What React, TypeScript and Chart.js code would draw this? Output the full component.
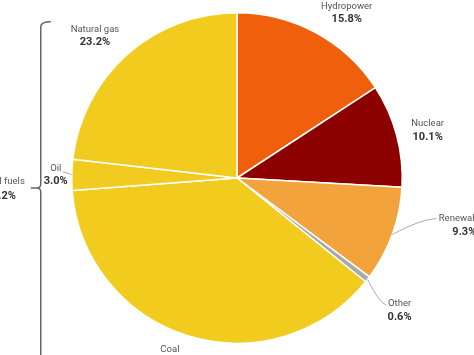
import React, { useEffect, useRef } from "react";
import { Chart, registerables } from "chart.js";

Chart.register(...registerables);

const categories = ["Hydropower", "Nuclear", "Renewables", "Other", "Coal", "Oil", "Natural gas"];
const shares = [15.8, 10.1, 9.3, 0.6, 38.0, 3.0, 23.2];
const colors = ["#ef5f0c", "#8c0000", "#f2a33c", "#a9a9a9", "#f1cc1f", "#f1cc1f", "#f1cc1f"];
const groupName = "Fossil fuels";
const groupMembers = ["Coal", "Oil", "Natural gas"];

// label placement relative to the outer mid-point of each slice (styling only)
const placement: Record<string, { dx: number; dy: number; lead?: [number, number] }> = {
  Hydropower: { dx: 31, dy: -20 },
  Nuclear: { dx: 31, dy: -5 },
  Renewables: { dx: 72, dy: -9, lead: [44, -16] },
  Other: { dx: 32, dy: 31, lead: [19, 26] },
  Coal: { dx: -18, dy: 20 },
  Oil: { dx: -16, dy: 0, lead: [-9, -3] },
  "Natural gas": { dx: -32, dy: -19 },
};

const FONT = "Roboto, 'Noto Sans', sans-serif";

const labelPlugin = {
  id: "sliceLabels",
  afterDatasetsDraw(chart: any) {
    const ctx = chart.ctx;
    const meta = chart.getDatasetMeta(0);
    const data = chart.data.datasets[0].data as number[];
    const total = data.reduce((a, b) => a + b, 0);
    let cx = 0, cy = 0, R = 0;
    ctx.save();
    meta.data.forEach((arc: any, i: number) => {
      const p = arc.getProps(["x", "y", "startAngle", "endAngle", "outerRadius"], true);
      cx = p.x; cy = p.y; R = p.outerRadius;
      const mid = (p.startAngle + p.endAngle) / 2;
      const px = p.x + Math.cos(mid) * p.outerRadius;
      const py = p.y + Math.sin(mid) * p.outerRadius;
      const name = chart.data.labels[i];
      const pl = placement[name];
      if (!pl) return;
      if (pl.lead) {
        ctx.strokeStyle = "#aaaaaa";
        ctx.lineWidth = 1;
        ctx.beginPath();
        ctx.moveTo(px, py);
        ctx.quadraticCurveTo(px + pl.lead[0] * 0.6, py + pl.lead[1] * 0.9, px + pl.lead[0], py + pl.lead[1]);
        ctx.stroke();
      }
      const lx = px + pl.dx;
      const ly = py + pl.dy;
      ctx.textAlign = "center";
      ctx.textBaseline = "middle";
      ctx.fillStyle = "#555555";
      ctx.font = `9.5px ${FONT}`;
      ctx.fillText(name, lx, ly - 6.5);
      ctx.fillStyle = "#333333";
      ctx.font = `bold 11px ${FONT}`;
      ctx.fillText(((data[i] / total) * 100).toFixed(1) + "%", lx, ly + 6.5);
    });

    // group bracket for fossil fuels
    const groupTotal = chart.data.labels.reduce(
      (s: number, l: string, i: number) => (groupMembers.includes(l) ? s + data[i] : s), 0);
    const bx = cx - R - 31;
    const top = cy - R + 9;
    const midY = cy + 10;
    ctx.strokeStyle = "#666666";
    ctx.lineWidth = 1.5;
    ctx.beginPath();
    ctx.moveTo(bx + 10, top);
    ctx.quadraticCurveTo(bx, top, bx, top + 5);
    ctx.lineTo(bx, midY - 4);
    ctx.quadraticCurveTo(bx, midY, bx - 4, midY);
    ctx.lineTo(bx - 10, midY);
    ctx.moveTo(bx - 4, midY);
    ctx.quadraticCurveTo(bx, midY, bx, midY + 4);
    ctx.lineTo(bx, chart.height + 10);
    ctx.stroke();
    ctx.textAlign = "center";
    ctx.textBaseline = "middle";
    ctx.fillStyle = "#555555";
    ctx.font = `9.5px ${FONT}`;
    ctx.fillText(groupName, bx - 40, midY - 6.5);
    ctx.fillStyle = "#333333";
    ctx.font = `bold 11px ${FONT}`;
    ctx.fillText(((groupTotal / total) * 100).toFixed(1) + "%", bx - 40, midY + 8);
    ctx.restore();
  },
};

export default function App() {
  const ref = useRef<HTMLCanvasElement>(null);
  useEffect(() => {
    const chart = new Chart(ref.current!, {
      type: "pie",
      data: {
        labels: categories,
        datasets: [
          {
            data: shares,
            backgroundColor: colors,
            borderColor: "#ffffff",
            borderWidth: 1.5,
          },
        ],
      },
      options: {
        responsive: false,
        animation: false,
        layout: { padding: { top: 12, bottom: 11, left: 0, right: 0 } },
        plugins: { legend: { display: false }, tooltip: { enabled: false } },
      },
      plugins: [labelPlugin],
    });
    return () => chart.destroy();
  }, []);
  return (
    <div style={{ position: "fixed", left: 0, top: 0, width: 474, height: 355, background: "#fff" }}>
      <canvas ref={ref} width={474} height={355} />
    </div>
  );
}
